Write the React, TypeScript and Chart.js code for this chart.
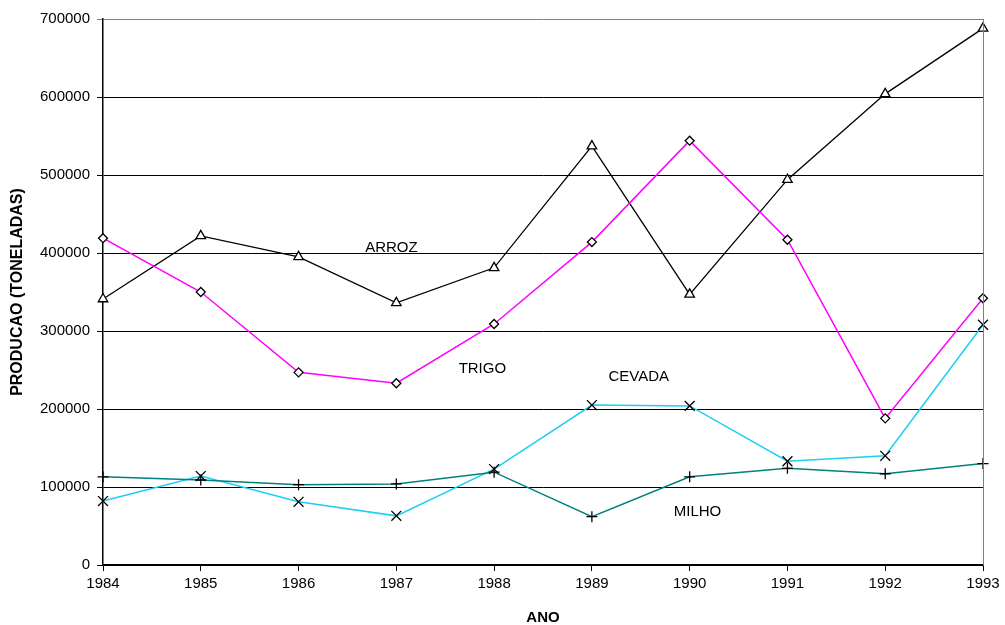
import React, { useEffect, useRef } from "react";
import { Chart, registerables } from "chart.js";

Chart.register(...registerables);

const years = ["1984", "1985", "1986", "1987", "1988", "1989", "1990", "1991", "1992", "1993"];
const arroz = [341000, 422000, 395000, 336000, 381000, 537000, 347000, 494000, 604000, 688000];
const trigo = [419000, 350000, 247000, 233000, 309000, 414000, 544000, 417000, 188000, 342000];
const cevada = [82000, 114000, 81000, 63000, 123000, 205000, 204000, 133000, 140000, 308000];
const milho = [113000, 109000, 103000, 104000, 119000, 62000, 113000, 124000, 117000, 130000];

const seriesLabels = [
  { text: "ARROZ", x: 2.95, y: 406000 },
  { text: "TRIGO", x: 3.88, y: 252000 },
  { text: "CEVADA", x: 5.48, y: 241000 },
  { text: "MILHO", x: 6.08, y: 68000 },
];

const FONT = "'Liberation Sans', Arial, sans-serif";

const labelPlugin = {
  id: "seriesLabels",
  afterDatasetsDraw(chart: any) {
    const { ctx, scales, chartArea } = chart;
    ctx.save();
    ctx.strokeStyle = "#808080";
    ctx.lineWidth = 1;
    ctx.beginPath();
    ctx.moveTo(Math.round(chartArea.right) + 0.5, chartArea.top);
    ctx.lineTo(Math.round(chartArea.right) + 0.5, chartArea.bottom);
    ctx.stroke();
    ctx.fillStyle = "#000";
    ctx.font = `15px ${FONT}`;
    ctx.textAlign = "center";
    ctx.textBaseline = "middle";
    for (const l of seriesLabels) {
      ctx.fillText(l.text, scales.x.getPixelForValue(l.x), scales.y.getPixelForValue(l.y));
    }
    ctx.restore();
  },
};

export default function App() {
  const ref = useRef<HTMLCanvasElement>(null);
  useEffect(() => {
    document.body.style.margin = "0";
    const chart = new Chart(ref.current!, {
      type: "line",
      data: {
        labels: years,
        datasets: [
          {
            label: "MILHO",
            data: milho,
            borderColor: "#008080",
            borderWidth: 1.5,
            pointStyle: "cross",
            pointRadius: 5.5,
            pointBorderColor: "#000",
            pointBorderWidth: 1.3,
            tension: 0,
          },
          {
            label: "CEVADA",
            data: cevada,
            borderColor: "#1ccff5",
            borderWidth: 1.5,
            pointStyle: "crossRot",
            pointRadius: 7,
            pointBorderColor: "#000",
            pointBorderWidth: 1.3,
            tension: 0,
          },
          {
            label: "TRIGO",
            data: trigo,
            borderColor: "#ff00ff",
            borderWidth: 1.5,
            pointStyle: "rectRot",
            pointRadius: 4.5,
            pointBorderColor: "#000",
            pointBackgroundColor: "#fff",
            pointBorderWidth: 1.3,
            tension: 0,
          },
          {
            label: "ARROZ",
            data: arroz,
            borderColor: "#000",
            borderWidth: 1.3,
            pointStyle: "triangle",
            pointRadius: 5.5,
            pointBorderColor: "#000",
            pointBackgroundColor: "#fff",
            pointBorderWidth: 1.3,
            tension: 0,
          },
        ],
      },
      options: {
        animation: false,
        responsive: false,
        layout: { padding: { top: 19, right: 22, left: 0, bottom: 0 } },
        plugins: { legend: { display: false }, tooltip: { enabled: false } },
        scales: {
          x: {
            offset: false,
            afterFit: (s: any) => {
              s.height = 60;
            },
            grid: {
              drawOnChartArea: false,
              drawTicks: true,
              tickLength: 6,
              color: "#000",
            },
            border: { display: true, color: "#000", width: 1.5 },
            ticks: { color: "#000", font: { family: FONT, size: 15 }, maxRotation: 0, padding: 4 },
            title: {
              display: true,
              text: "ANO",
              color: "#000",
              font: { family: FONT, size: 15, weight: "bold" },
              padding: { top: 0, bottom: -2 },
            },
          },
          y: {
            min: 0,
            max: 700000,
            afterFit: (s: any) => {
              s.width = 103;
            },
            grid: {
              color: (c: any) => (c.tick && c.tick.value === 700000 ? "#808080" : "#000"),
              lineWidth: 1,
              tickLength: 6,
            },
            border: { display: true, color: "#000", width: 1.5 },
            ticks: {
              stepSize: 100000,
              color: "#000",
              font: { family: FONT, size: 15 },
              padding: 7,
              callback: (v: any) => String(v),
            },
            title: {
              display: true,
              text: "PRODUCAO (TONELADAS)",
              color: "#000",
              font: { family: FONT, size: 16, weight: "bold" },
              padding: { top: 8, bottom: 0 },
            },
          },
        },
      },
      plugins: [labelPlugin],
    });
    return () => chart.destroy();
  }, []);
  return (
    <div style={{ position: "absolute", left: 0, top: 0, width: 1005, height: 625 }}>
      <canvas ref={ref} width={1005} height={625} />
    </div>
  );
}
